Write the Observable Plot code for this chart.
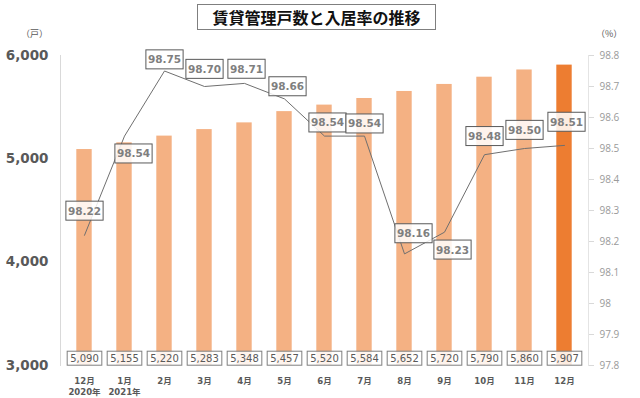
<!DOCTYPE html>
<html>
<head>
<meta charset="utf-8">
<script src="https://cdn.jsdelivr.net/npm/d3@7"></script>
<script src="https://cdn.jsdelivr.net/npm/@observablehq/plot@0.6"></script>
<style>
  html, body { margin: 0; padding: 0; background: #fff; }
  #wrap { position: relative; width: 640px; height: 398px; overflow: hidden; font-family: "DejaVu Sans", "Noto Sans CJK JP", sans-serif; }
  #title { position: absolute; left: 197px; top: 4px; width: 239px; height: 26px; border: 1px solid #7f7f7f; box-sizing: border-box;
           font-family: "Noto Sans CJK JP", sans-serif; font-weight: bold; font-size: 16px; line-height: 24px; text-align: center; color: #111; }
  .unit { position: absolute; top: 27px; font-family: "Noto Sans CJK JP", sans-serif; font-size: 9px; color: #595959; }
  svg { position: absolute; left: 0; top: 0; }
</style>
</head>
<body>
<div id="wrap">
  <div id="title">賃貸管理戸数と入居率の推移</div>
  <div class="unit" style="left:21px">（戸）</div>
  <div class="unit" style="left:596px">（%）</div>
</div>
<script>
// ---- data ----
const keys = ["2020-12","2021-01","2021-02","2021-03","2021-04","2021-05","2021-06","2021-07","2021-08","2021-09","2021-10","2021-11","2021-12"];
const monthLabels = ["12月","1月","2月","3月","4月","5月","6月","7月","8月","9月","10月","11月","12月"];
const yearLabels = ["2020年","2021年","","","","","","","","","","",""];
const units = [5090,5155,5220,5283,5348,5457,5520,5584,5652,5720,5790,5860,5907];
const rates = [98.22,98.54,98.75,98.70,98.71,98.66,98.54,98.54,98.16,98.23,98.48,98.50,98.51];
const unitTicks = [3000,4000,5000,6000];
const rateTicks = [97.8,97.9,98.0,98.1,98.2,98.3,98.4,98.5,98.6,98.7,98.8];

// ---- styling config ----
const yDomain = [3000, 6000];
const rateDomain = [97.8, 98.8];
const labelDx = [0, 9, 0, 0, 2, 3, 3, 0, 9, 8, 0, 0, 2];
const labelDy = [-24, 18, -11, -17, -14, -12, -13, -12, -20, 18, -18, -18, -23];

const toY = r => yDomain[0] + (r - rateDomain[0]) / (rateDomain[1] - rateDomain[0]) * (yDomain[1] - yDomain[0]);
const fromY = y => rateDomain[0] + (y - yDomain[0]) / (yDomain[1] - yDomain[0]) * (rateDomain[1] - rateDomain[0]);

const data = keys.map((k, i) => ({key: k, units: units[i], rate: rates[i], last: i === keys.length - 1}));
const fmt = d3.format(",");

const rateLabelMarks = data.map((d, i) => Plot.text([d], {
  x: "key", y: e => toY(e.rate), text: e => e.rate.toFixed(2),
  dx: labelDx[i], dy: labelDy[i],
  fontSize: 10.5, fontWeight: "bold", fill: "#7f7f7f", fontFamily: "DejaVu Sans",
  ariaDescription: "box-large"
}));

const chart = Plot.plot({
  width: 640, height: 398,
  marginTop: 55, marginBottom: 33, marginLeft: 60, marginRight: 52,
  style: {fontFamily: "DejaVu Sans, Noto Sans CJK JP, sans-serif", background: "transparent"},
  x: {domain: keys, padding: 0, label: null},
  y: {domain: yDomain, label: null},
  marks: [
    Plot.barY(data, {x: "key", y1: yDomain[0], y2: "units", fill: d => d.last ? "#ED7D31" : "#F4B183", insetLeft: 12.3, insetRight: 12.3}),
    Plot.frame({anchor: "left", stroke: "#d9d9d9"}),
    Plot.frame({anchor: "right", stroke: "#e4e4e4"}),
    Plot.axisY({anchor: "left", ticks: unitTicks, tickSize: 0, tickPadding: 12, tickFormat: fmt,
      fontSize: 13.5, fontWeight: "bold", fill: "#595959", label: null}),
    Plot.axisY({anchor: "right", ticks: rateTicks.map(toY), tickSize: 5, tickPadding: 6, stroke: "#d9d9d9",
      tickFormat: d => String(+fromY(d).toFixed(1)), fontSize: 10, fill: "#9a9a9a", fontFamily: "Open Sans", label: null}),
    Plot.axisX({anchor: "bottom", tickSize: 0, tickPadding: 10, lineHeight: 1.35,
      tickFormat: (d) => { const i = keys.indexOf(d); return yearLabels[i] ? monthLabels[i] + "\n" + yearLabels[i] : monthLabels[i]; },
      fontSize: 8.5, fontWeight: "bold", fill: "#595959", label: null}),
    Plot.line(data, {x: "key", y: d => toY(d.rate), stroke: "#6f6f6f", strokeWidth: 1}),
    Plot.text(data, {x: "key", y: yDomain[0], text: d => fmt(d.units), dy: -7, fontSize: 10, fill: "#595959",
      fontFamily: "DejaVu Sans", ariaDescription: "box-small"}),
    ...rateLabelMarks
  ]
});

document.getElementById("wrap").appendChild(chart);

function addBoxes(desc, padX, padY, stroke) {
  chart.querySelectorAll(`g[aria-description="${desc}"]`).forEach(g => {
    g.querySelectorAll("text").forEach(t => {
      const b = t.getBBox();
      const r = document.createElementNS("http://www.w3.org/2000/svg", "rect");
      r.setAttribute("x", b.x - padX);
      r.setAttribute("y", b.y - padY);
      r.setAttribute("width", b.width + 2 * padX);
      r.setAttribute("height", b.height + 2 * padY);
      r.setAttribute("fill", "#ffffff");
      r.setAttribute("fill-opacity", "0.85");
      r.setAttribute("stroke", stroke);
      r.setAttribute("stroke-width", "1");
      const tr = t.getAttribute("transform");
      if (tr) r.setAttribute("transform", tr);
      t.parentNode.insertBefore(r, t);
    });
  });
}
addBoxes("box-small", 3, 1.5, "#7f7f7f");
addBoxes("box-large", 2, 3.5, "#595959");
</script>
</body>
</html>
